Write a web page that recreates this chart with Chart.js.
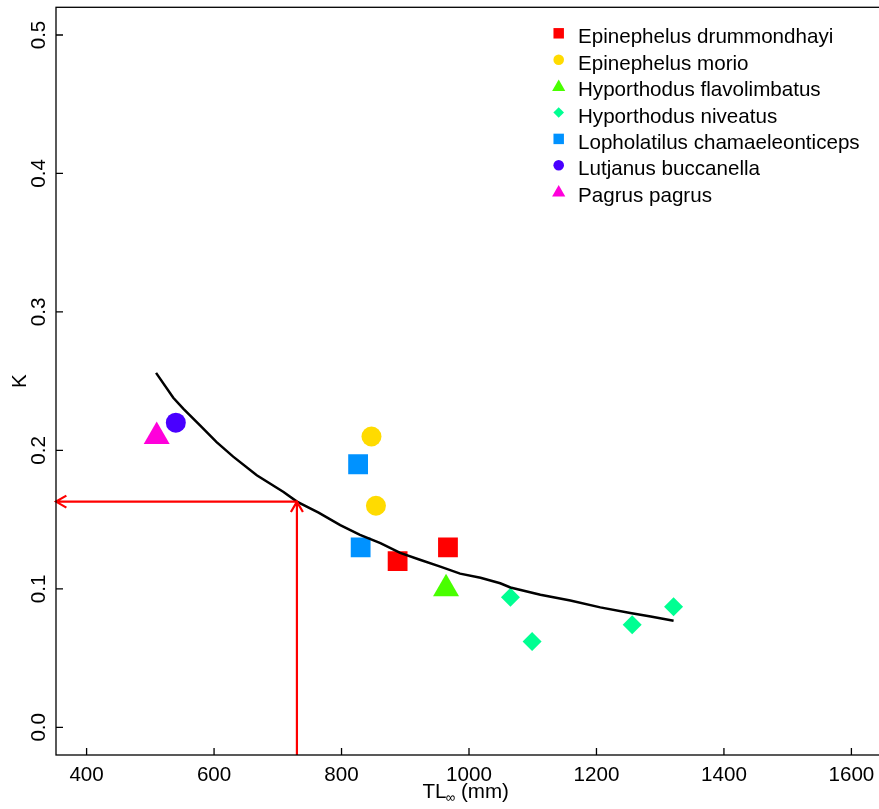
<!DOCTYPE html>
<html><head><meta charset="utf-8">
<script src="https://cdn.jsdelivr.net/npm/chart.js@4"></script>
<style>
html,body{margin:0;padding:0;overflow:hidden;background:#fff;width:879px;height:809px}
#wrap{position:absolute;left:0;top:0;width:890px;height:809px}
</style></head>
<body><div id="wrap"><canvas id="c" width="890" height="809"></canvas></div>
<script>
// ---- data ----
const speciesNames = ["Epinephelus drummondhayi","Epinephelus morio","Hyporthodus flavolimbatus","Hyporthodus niveatus","Lopholatilus chamaeleonticeps","Lutjanus buccanella","Pagrus pagrus"];
const speciesColors = ["#FF0000","#FFDB00","#49FF00","#00FF92","#0092FF","#4900FF","#FF00DB"];
const speciesStyles = ["rect","circle","triangle","rectRot","rect","circle","triangle"];
const drummondTL = [888, 967];        const drummondK = [0.12, 0.13];
const morioTL = [847, 854];           const morioK = [0.21, 0.16];
const flavoTL = [964];                const flavoK = [0.10];
const niveatusTL = [1065, 1099, 1256, 1321]; const niveatusK = [0.094, 0.062, 0.074, 0.087];
const lopholTL = [826, 830];          const lopholK = [0.19, 0.13];
const lutjanusTL = [540];             const lutjanusK = [0.22];
const pagrusTL = [510];               const pagrusK = [0.21];
const curveTL = [509, 536, 552, 578, 604, 630, 667, 709, 730, 764, 798, 829, 861, 892, 923, 955, 986, 1018, 1049, 1065, 1112, 1159, 1206, 1253, 1285, 1321];
const curveK  = [0.256, 0.238, 0.230, 0.218, 0.206, 0.1955, 0.182, 0.170, 0.163, 0.155, 0.146, 0.139, 0.133, 0.126, 0.121, 0.116, 0.111, 0.108, 0.104, 0.101, 0.0957, 0.0916, 0.0866, 0.0825, 0.080, 0.077];
const arrowTL = 730;
const arrowK = 0.163;
const xTicks = [400, 600, 800, 1000, 1200, 1400, 1600];
const yTicks = [0.0, 0.1, 0.2, 0.3, 0.4, 0.5];
const xRange = [352, 1648];
const yRange = [-0.02, 0.52];

const FONT = '"Liberation Sans", Arial, Helvetica, sans-serif';
const FS = 20.6;

const seriesTL = [drummondTL, morioTL, flavoTL, niveatusTL, lopholTL, lutjanusTL, pagrusTL];
const seriesK = [drummondK, morioK, flavoK, niveatusK, lopholK, lutjanusK, pagrusK];
const plotRadius = {rect: 14, circle: 10, triangle: 15, rectRot: 9.5};
const legendRadius = {rect: 7.4, circle: 5.3, triangle: 7.6, rectRot: 5.3};
const zip = (xs, ys) => xs.map((x, i) => ({x: x, y: ys[i]}));

const datasets = [{
  label: 'fit', data: zip(curveTL, curveK), showLine: true, borderColor: '#000',
  borderWidth: 2.5, pointRadius: 0, tension: 0, fill: false
}];
speciesNames.forEach((n, i) => {
  datasets.push({
    label: n, data: zip(seriesTL[i], seriesK[i]),
    pointStyle: speciesStyles[i], pointRadius: plotRadius[speciesStyles[i]],
    pointBackgroundColor: speciesColors[i], pointBorderWidth: 0,
    backgroundColor: speciesColors[i], borderColor: speciesColors[i], showLine: false
  });
});

const zeroPad = s => { s.paddingTop = 0; s.paddingBottom = 0; s.paddingLeft = 0; s.paddingRight = 0; };

const framePlugin = {
  id: 'frame',
  afterDatasetsDraw(chart) {
    const ctx = chart.ctx, xs = chart.scales.x, ys = chart.scales.y;
    const px = xs.getPixelForValue(arrowTL), py = ys.getPixelForValue(arrowK);
    const x0 = xs.getPixelForValue(xRange[0]), y0 = ys.getPixelForValue(yRange[0]);
    ctx.save();
    ctx.strokeStyle = '#FF0000'; ctx.lineWidth = 2.2; ctx.lineCap = 'butt';
    const head = 12, ang = Math.PI / 6;
    ctx.beginPath();
    ctx.moveTo(px, py); ctx.lineTo(x0, py);
    ctx.moveTo(x0 + head * Math.cos(ang), py - head * Math.sin(ang)); ctx.lineTo(x0, py);
    ctx.lineTo(x0 + head * Math.cos(ang), py + head * Math.sin(ang));
    ctx.moveTo(px, y0); ctx.lineTo(px, py);
    ctx.moveTo(px - head * Math.sin(ang), py + head * Math.cos(ang)); ctx.lineTo(px, py);
    ctx.lineTo(px + head * Math.sin(ang), py + head * Math.cos(ang));
    ctx.stroke();
    ctx.restore();
  },
  afterDraw(chart) {
    const ctx = chart.ctx, ca = chart.chartArea, xs = chart.scales.x, ys = chart.scales.y;
    ctx.save();
    ctx.strokeStyle = '#000'; ctx.lineWidth = 1.3;
    ctx.strokeRect(ca.left, ca.top, ca.right - ca.left, ca.bottom - ca.top);
    ctx.beginPath();
    xs.ticks.forEach(t => { const p = xs.getPixelForValue(t.value); ctx.moveTo(p, ca.bottom); ctx.lineTo(p, ca.bottom - 7); });
    ys.ticks.forEach(t => { const p = ys.getPixelForValue(t.value); ctx.moveTo(ca.left, p); ctx.lineTo(ca.left + 7, p); });
    ctx.stroke();
    // axis titles
    ctx.fillStyle = '#000';
    ctx.textBaseline = 'alphabetic';
    ctx.font = FS + 'px ' + FONT;
    ctx.textAlign = 'left';
    let tx = 422.5; const tb = 797.7;
    ctx.fillText('TL', tx, tb); tx += ctx.measureText('TL').width;
    ctx.font = '13.5px ' + FONT;
    ctx.fillText('\u221E', tx - 1, tb + 4); tx += ctx.measureText('\u221E').width - 1;
    ctx.font = FS + 'px ' + FONT;
    ctx.fillText(' (mm)', tx, tb);
    ctx.save();
    ctx.translate(26, (ca.top + ca.bottom) / 2);
    ctx.rotate(-Math.PI / 2);
    ctx.textAlign = 'center';
    ctx.fillText('K', 0, 0);
    ctx.restore();
    // legend
    const lx = 558.7, ly = 33.3, step = 26.4;
    speciesNames.forEach((n, i) => {
      const y = ly + i * step;
      ctx.fillStyle = speciesColors[i];
      Chart.helpers.drawPoint(ctx, {pointStyle: speciesStyles[i], radius: legendRadius[speciesStyles[i]], rotation: 0, borderWidth: 0}, lx, y + (speciesStyles[i] === 'triangle' ? 1 : 0));
      ctx.fillStyle = '#000';
      ctx.font = FS + 'px ' + FONT;
      ctx.textAlign = 'left';
      ctx.fillText(n, 578, y + 10);
    });
    ctx.restore();
  }
};

new Chart(document.getElementById('c'), {
  type: 'scatter',
  data: {datasets: datasets},
  options: {
    responsive: false, animation: false,
    layout: {autoPadding: false, padding: {left: 0, top: 7.3, right: 8, bottom: 0}},
    plugins: {legend: {display: false}, tooltip: {enabled: false}},
    scales: {
      x: {
        type: 'linear', min: xRange[0], max: xRange[1],
        afterBuildTicks: s => { s.ticks = xTicks.map(v => ({value: v})); },
        afterFit: s => { s.height = 54; zeroPad(s); },
        grid: {display: false, drawTicks: false}, border: {display: false},
        ticks: {font: {family: FONT, size: FS}, color: '#000', padding: 8, maxRotation: 0, minRotation: 0, autoSkip: false,
                callback: v => String(v)}
      },
      y: {
        type: 'linear', min: yRange[0], max: yRange[1],
        afterBuildTicks: s => { s.ticks = yTicks.map(v => ({value: v})); },
        afterFit: s => { s.width = 56; zeroPad(s); },
        grid: {display: false, drawTicks: false}, border: {display: false},
        ticks: {font: {family: FONT, size: FS}, color: '#000', padding: 2.5, minRotation: 90, maxRotation: 90,
                crossAlign: 'center', autoSkip: false, callback: v => v.toFixed(1)}
      }
    }
  },
  plugins: [framePlugin]
});
</script>
</body></html>
